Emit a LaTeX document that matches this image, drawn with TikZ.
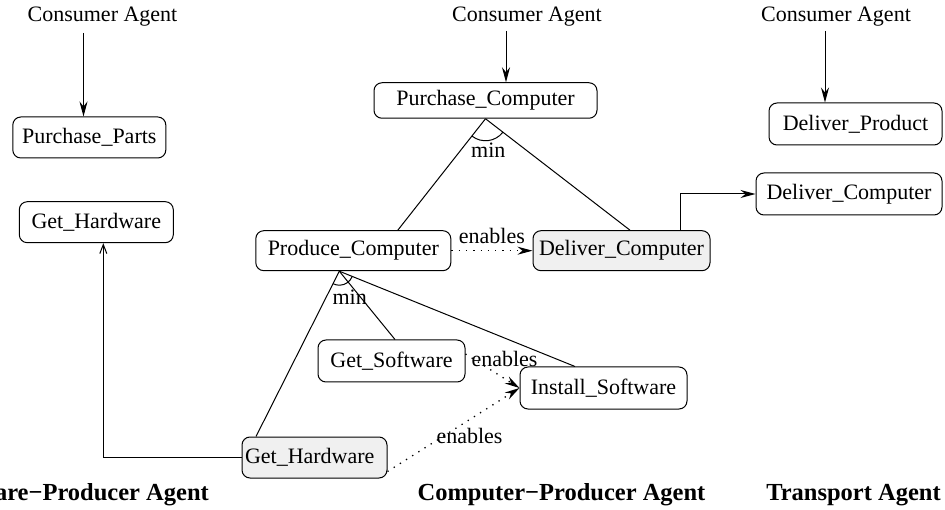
\documentclass[tikz,border=0pt]{standalone}
\usepackage{fontspec}
\setmainfont{Liberation Serif}
\usetikzlibrary{arrows.meta,calc}
\tikzset{
  box/.style={draw, line width=1pt, rounded corners=8pt, inner sep=0pt, font=\fontsize{22}{26}\selectfont},
  grey/.style={fill=black!6},
  txt/.style={inner sep=0pt, font=\fontsize{22}{26}\selectfont},
  agent/.style={inner sep=0pt, font=\fontsize{24.5}{29}\selectfont\bfseries},
  conn/.style={line width=1pt},
  arr/.style={conn, -{Stealth[length=15pt,width=8pt,inset=5pt]}},
  barb/.style={conn, -{Straight Barb[length=9pt,width=7pt]}},
  enab/.style={line width=1.3pt, dash pattern=on 1.3pt off 6pt, -{Stealth[length=15pt,width=8pt,inset=5pt]}},
}
\begin{document}
\begin{tikzpicture}[x=1pt,y=-1pt]
\useasboundingbox (0,0) rectangle (945,510);

% agent headers
\node[txt, anchor=base] (ca1) at (102.5,21.5) {Consumer Agent};
\node[txt, anchor=base] (ca2) at (527,21.5) {Consumer Agent};
\node[txt, anchor=base] (ca3) at (836,21.5) {Consumer Agent};

% boxes
\node[box, minimum width=153pt, minimum height=41pt] (pp) at (89.3,137.5) {Purchase\_Parts};
\node[box, minimum width=154pt, minimum height=41pt] (gh1) at (96.3,222.2) {Get\_Hardware};
\node[box, minimum width=223pt, minimum height=35.5pt] (pc) at (485.5,100.5) {Purchase\_Computer};
\node[box, minimum width=195pt, minimum height=40pt] (prc) at (353.3,250.7) {Produce\_Computer};
\node[box, grey, minimum width=177pt, minimum height=40pt] (dc1) at (621.5,250.7) {Deliver\_Computer};
\node[box, minimum width=173pt, minimum height=42pt] (dp) at (855.5,124) {Deliver\_Product};
\node[box, minimum width=186pt, minimum height=42pt] (dc2) at (849,194) {Deliver\_Computer};
\node[box, minimum width=147pt, minimum height=42pt] (gs) at (391.5,361) {Get\_Software};
\node[box, minimum width=167pt, minimum height=42pt] (is) at (603.5,388) {Install\_Software};
\node[box, grey, minimum width=145pt, minimum height=41pt, text width=139pt, align=left, inner xsep=3pt] (gh2) at (314.5,457.5) {Get\_Hardware};

% consumer arrows
\coordinate (s1) at (83.5,33);
\coordinate (s2) at (506,31);
\coordinate (s3) at (825,31);
\draw[arr] (s1) -- (s1 |- pp.north);
\draw[arr] (s2) -- (s2 |- pc.north);
\draw[arr] (s3) -- (s3 |- dp.north);

% min decomposition of Purchase_Computer
\coordinate (pa) at (pc.south);
\draw[conn] (pa) -- ([xshift=44.5]prc.north);
\draw[conn] (pa) -- ([xshift=8.5]dc1.north);
\draw[conn] ([shift={(127.8:22)}]pa) arc[start angle=127.8, end angle=37.95, radius=22];
\node[txt, anchor=base] (min1) at (488.3,158) {min};

% min decomposition of Produce_Computer
\coordinate (qa) at ([xshift=-14]prc.south);
\draw[conn] (qa) -- ([xshift=-58.5]gh2.north);
\draw[conn] (qa) -- ([xshift=3.5]gs.north);
\draw[conn] (qa) -- ([xshift=-28.5]is.north);
\draw[conn] ([shift={(116.8:14)}]qa) arc[start angle=116.8, end angle=22.1, radius=14];
\node[txt, anchor=base] (min2) at (349.7,305) {min};

% enables relations
\draw[enab] (prc.east) -- node[txt, above=6pt] (en1) {enables} (dc1.west);
\draw[enab] ([yshift=7]gs.east) -- (is.west);
\draw[enab] ([yshift=-14]gh2.east) -- (is.west);
\node[txt, anchor=base] (en2) at (504.5,367) {enables};
\node[txt, anchor=base] (en3) at (469.5,443.3) {enables};

% inter-agent connectors
\draw[arr] ([xshift=58.5]dc1.north) |- (dc2.west);
\draw[barb] (gh2.west) -| ([xshift=7]gh1.south);

% agent labels
\node[agent, anchor=base east] (ag1) at (209,500) {Hardware−Producer Agent};
\node[agent, anchor=base] (ag2) at (561.5,500) {Computer−Producer Agent};
\node[agent, anchor=base] (ag3) at (853.5,500) {Transport Agent};
\end{tikzpicture}
\end{document}
